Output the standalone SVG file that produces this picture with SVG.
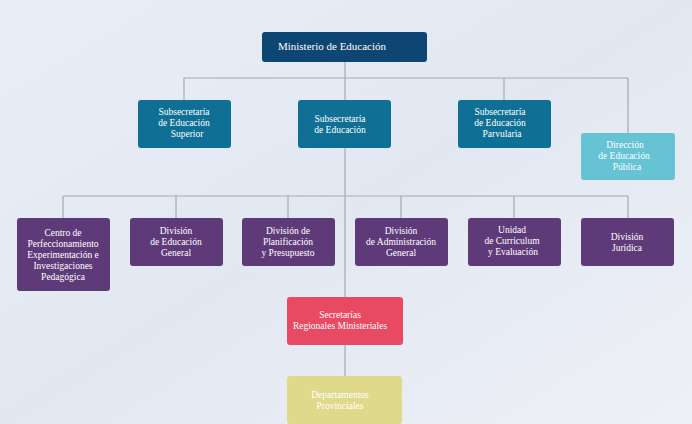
<svg xmlns="http://www.w3.org/2000/svg" width="692" height="424" viewBox="0 0 692 424">
<defs>
<linearGradient id="bg" x1="0" y1="0" x2="1" y2="1"><stop offset="0" stop-color="#e9eef6"/><stop offset="0.5" stop-color="#e2e8f2"/><stop offset="1" stop-color="#eef0f6"/></linearGradient>
</defs>
<style>
text{font-family:"Liberation Serif",serif;font-size:9.5px;fill:#fff;text-anchor:middle}
.l{stroke:#a4a9b3;stroke-width:1.2;fill:none}
.b{fill:#0f6f94}.p{fill:#5f3a79}
</style>
<rect width="692" height="424" fill="url(#bg)"/>
<g id="connectors">
<path class="l" d="M345 62V100M184 78H628M184 78V100M504 78V100M628 78V133M345 148V376M63 196H628M63 196V218M176 196V218M288 196V218M401 196V218M514 196V218M628 196V218"/>
</g>
<g id="ministerio"><rect x="262" y="32" width="165" height="30" rx="3" fill="#0d4573"/><text x="332" y="50" style="font-size:11px">Ministerio de Educación</text></g>
<g id="sub-superior"><rect class="b" x="138" y="100" width="93" height="48" rx="3"/><text x="184" y="115">Subsecretaría</text><text x="184" y="126">de Educación</text><text x="187" y="137">Superior</text></g>
<g id="sub-educacion"><rect class="b" x="298" y="100" width="93" height="48" rx="3"/><text x="340" y="122">Subsecretaría</text><text x="340" y="133">de Educación</text></g>
<g id="sub-parvularia"><rect class="b" x="458" y="100" width="93" height="48" rx="3"/><text x="500" y="115">Subsecretaría</text><text x="500" y="126">de Educación</text><text x="502" y="137">Parvularia</text></g>
<g id="direccion"><rect x="581" y="133" width="94" height="47" rx="3" fill="#66c3d4"/><text x="625" y="148">Dirección</text><text x="624" y="159">de Educación</text><text x="627" y="170">Pública</text></g>
<g id="centro"><rect class="p" x="17" y="218" width="93" height="73" rx="3"/><text x="63" y="236">Centro de</text><text x="63" y="247">Perfeccionamiento</text><text x="63" y="258">Experimentación e</text><text x="63" y="269">Investigaciones</text><text x="63" y="280">Pedagógica</text></g>
<g id="div-general"><rect class="p" x="130" y="218" width="93" height="48" rx="3"/><text x="176" y="234">División</text><text x="176" y="245">de Educación</text><text x="176" y="256">General</text></g>
<g id="div-planificacion"><rect class="p" x="242" y="218" width="93" height="48" rx="3"/><text x="288" y="234">División de</text><text x="288" y="245">Planificación</text><text x="288" y="256">y Presupuesto</text></g>
<g id="div-administracion"><rect class="p" x="355" y="218" width="93" height="48" rx="3"/><text x="401" y="234">División</text><text x="401" y="245">de Administración</text><text x="401" y="256">General</text></g>
<g id="unidad-curriculum"><rect class="p" x="468" y="218" width="93" height="48" rx="3"/><text x="512" y="233">Unidad</text><text x="512" y="244">de Curriculum</text><text x="513" y="255">y Evaluación</text></g>
<g id="div-juridica"><rect class="p" x="581" y="218" width="93" height="48" rx="3"/><text x="627" y="240">División</text><text x="627" y="251">Jurídica</text></g>
<g id="secretarias"><rect x="287" y="297" width="116" height="48" rx="3" fill="#e84a64"/><text x="340" y="318">Secretarías</text><text x="340" y="329">Regionales Ministeriales</text></g>
<g id="departamentos"><rect x="287" y="376" width="115" height="48" rx="3" fill="#dfd98a"/><text x="340" y="398">Departamentos</text><text x="340" y="409">Provinciales</text></g>
</svg>
